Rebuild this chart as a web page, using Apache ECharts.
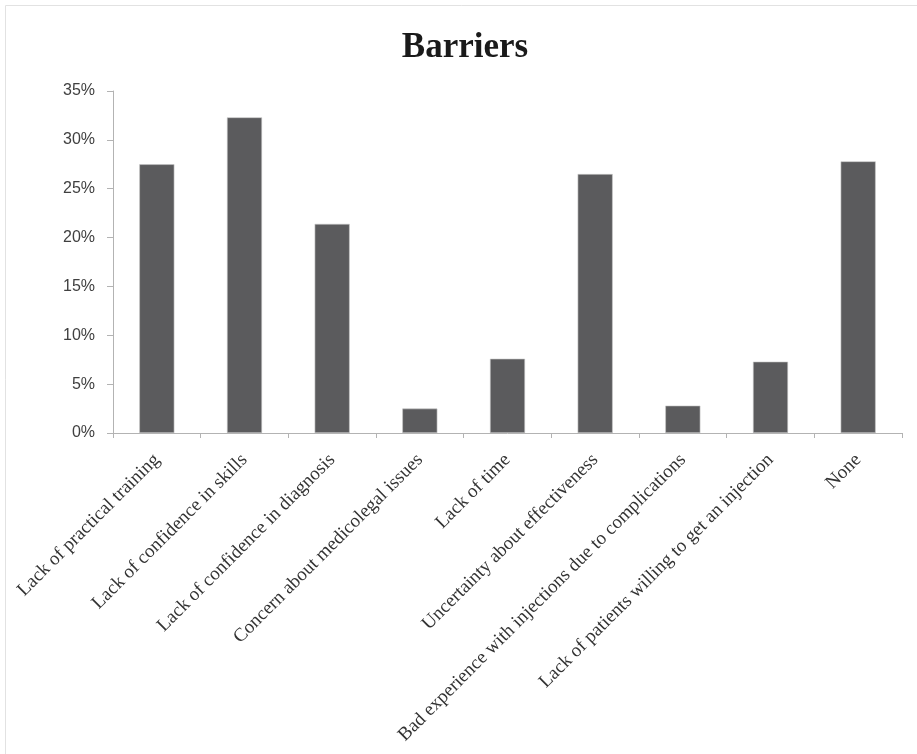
<!DOCTYPE html>
<html>
<head>
<meta charset="utf-8">
<script src="https://cdn.jsdelivr.net/npm/echarts@6/dist/echarts.min.js"></script>
<style>
  html, body { margin: 0; padding: 0; background: #ffffff; }
  #chart { width: 917px; height: 754px; }
</style>
</head>
<body>
<div id="chart"></div>
<script>
// Reported barriers, share of respondents (%)
const categories = [
  'Lack of practical training',
  'Lack of confidence in skills',
  'Lack of confidence in diagnosis',
  'Concern about medicolegal issues',
  'Lack of time',
  'Uncertainty about effectiveness',
  'Bad experience with injections due to complications',
  'Lack of patients willing to get an injection',
  'None'
];
const shares = [27.5, 32.3, 21.4, 2.5, 7.6, 26.5, 2.8, 7.3, 27.8];
const yTicks = { min: 0, max: 35, step: 5 };

const chart = echarts.init(document.getElementById('chart'), null, { renderer: 'canvas' });

const axisGray = '#b3b3b3';

chart.setOption({
  backgroundColor: '#ffffff',
  animation: false,
  title: {
    text: 'Barriers',
    left: 460,
    top: 25,
    textAlign: 'center',
    textStyle: {
      fontFamily: '"Liberation Serif", "DejaVu Serif", serif',
      fontWeight: 'bold',
      fontSize: 35,
      color: '#1a1a1a'
    }
  },
  graphic: [
    { type: 'line', shape: { x1: 5.5, y1: 5.5, x2: 5.5, y2: 754 }, style: { stroke: '#e2e2e2', lineWidth: 1 } },
    { type: 'line', shape: { x1: 5.5, y1: 5.5, x2: 917, y2: 5.5 }, style: { stroke: '#e2e2e2', lineWidth: 1 } }
  ],
  grid: {
    left: 113,
    right: 15,
    top: 91,
    bottom: 321,
    containLabel: false
  },
  xAxis: {
    type: 'category',
    data: categories,
    axisLine: { show: true, lineStyle: { color: axisGray, width: 1 } },
    axisTick: { show: true, alignWithLabel: false, length: 5, lineStyle: { color: axisGray } },
    axisLabel: {
      interval: 0,
      rotate: 45,
      margin: 24,
      fontFamily: '"Liberation Serif", "DejaVu Serif", serif',
      fontSize: 19,
      color: '#333333'
    },
    splitLine: { show: false }
  },
  yAxis: {
    type: 'value',
    min: yTicks.min,
    max: yTicks.max,
    interval: yTicks.step,
    axisLine: { show: true, lineStyle: { color: axisGray, width: 1 } },
    axisTick: { show: true, inside: false, length: 6, lineStyle: { color: axisGray } },
    axisLabel: {
      margin: 18,
      formatter: v => v + '%',
      fontFamily: '"Liberation Sans", Arial, sans-serif',
      fontSize: 16,
      color: '#404040'
    },
    splitLine: { show: false }
  },
  series: [{
    type: 'bar',
    data: shares,
    barCategoryGap: '60%',
    itemStyle: {
      color: '#5b5b5d',
      borderColor: '#c8c8c8',
      borderWidth: 0.6
    }
  }]
});
</script>
</body>
</html>
